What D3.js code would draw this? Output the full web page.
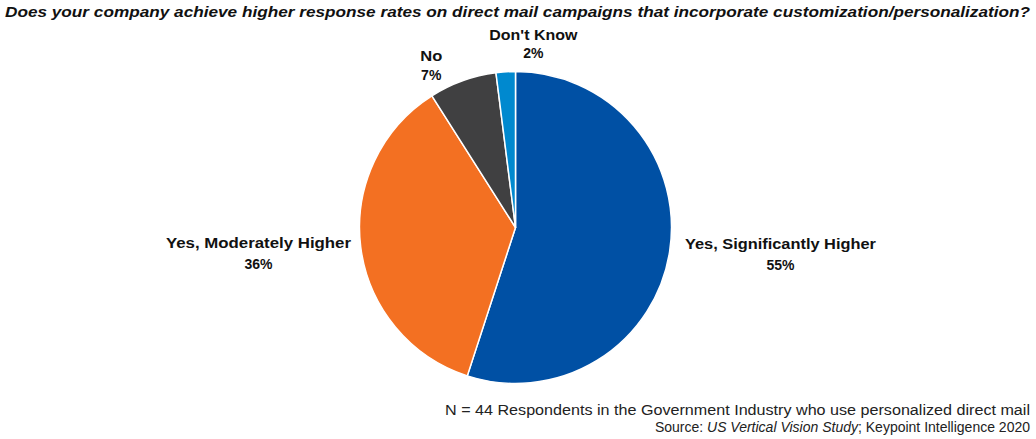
<!DOCTYPE html>
<html>
<head>
<meta charset="utf-8">
<script src="https://cdn.jsdelivr.net/npm/d3@7"></script>
<style>
  html, body { margin: 0; padding: 0; background: #fff; }
  svg { display: block; font-family: "Liberation Sans", Arial, sans-serif; }
</style>
</head>
<body>
<svg id="chart" width="1036" height="439"></svg>
<script>
// Survey answers and their shares (%)
const categories = ["Yes, Significantly Higher", "Yes, Moderately Higher", "No", "Don't Know"];
const shares = [55, 36, 7, 2];
const sliceColors = ["#0050A4", "#F37022", "#404041", "#0089CF"];

const titleText = "Does your company achieve higher response rates on direct mail campaigns that incorporate customization/personalization?";
const noteLine1 = "N = 44 Respondents in the Government Industry who use personalized direct mail";

const width = 1036, height = 439;
const cx = 515.5, cy = 227.5, radius = 156;

const svg = d3.select("#chart");

// Stretch a text element to a set width so long lines span the same space
function fitWidth(sel, w) {
  sel.attr("textLength", w).attr("lengthAdjust", "spacingAndGlyphs");
  return sel;
}

// Title
fitWidth(
  svg.append("text")
    .attr("x", 5).attr("y", 17)
    .attr("font-size", 15).attr("font-weight", "bold").attr("font-style", "italic")
    .attr("fill", "#111")
    .text(titleText),
  1025);

// Pie
const pie = d3.pie().sort(null).value(d => d.value);
const arcs = pie(categories.map((c, i) => ({ name: c, value: shares[i], color: sliceColors[i] })));
const arc = d3.arc().innerRadius(0).outerRadius(radius);

const g = svg.append("g").attr("transform", `translate(${cx},${cy})`);
g.selectAll("path.slice")
  .data(arcs)
  .join("path")
  .attr("class", "slice")
  .attr("d", arc)
  .attr("fill", d => d.data.color)
  .attr("stroke", "#fff")
  .attr("stroke-width", 1.5)
  .attr("stroke-linejoin", "round");

// Label placement: direction from the slice's mid-angle, then a per-label offset
const labelLayout = {
  "Yes, Significantly Higher": { r: 250, dx: 18, dy: -14, gap: 21 },
  "Yes, Moderately Higher": { r: 250, dx: -9, dy: -7, gap: 21 },
  "No": { r: 175, dx: -25, dy: 2, gap: 19 },
  "Don't Know": { r: 178, dx: 29, dy: -6, gap: 18 }
};
const labelWidths = {
  "Yes, Significantly Higher": 191,
  "Yes, Moderately Higher": 185,
  "No": 22,
  "Don't Know": 88
};

arcs.forEach(a => {
  const lay = labelLayout[a.data.name];
  const mid = (a.startAngle + a.endAngle) / 2;
  const x = Math.sin(mid) * lay.r + lay.dx;
  const y = -Math.cos(mid) * lay.r + lay.dy;
  const t = g.append("text")
    .attr("text-anchor", "middle")
    .attr("font-size", 14).attr("font-weight", "bold")
    .attr("fill", "#111");
  const l1 = t.append("tspan").attr("x", x).attr("y", y - 4).text(a.data.name);
  fitWidth(l1, labelWidths[a.data.name]);
  t.append("tspan").attr("x", x).attr("y", y - 4 + lay.gap).text(d3.format(".0f")(a.data.value) + "%");
});

// Footnote
fitWidth(
  svg.append("text")
    .attr("x", 1030).attr("y", 415)
    .attr("text-anchor", "end")
    .attr("font-size", 14).attr("fill", "#222")
    .text(noteLine1),
  585);

const src = svg.append("text")
  .attr("x", 1030).attr("y", 432)
  .attr("text-anchor", "end")
  .attr("font-size", 14).attr("fill", "#222");
src.append("tspan").text("Source: ");
src.append("tspan").attr("font-style", "italic").text("US Vertical Vision Study");
src.append("tspan").text("; Keypoint Intelligence 2020");
</script>
</body>
</html>
